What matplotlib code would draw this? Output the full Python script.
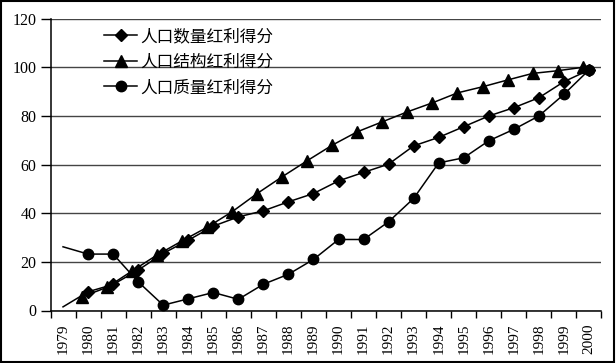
import numpy as np
import matplotlib
matplotlib.use("Agg")
import matplotlib.pyplot as plt
from matplotlib.lines import Line2D
from matplotlib.patches import Rectangle

plt.rcParams['font.family'] = ['Liberation Serif', 'Noto Sans CJK SC']

# %% data
years = [str(y) for y in range(1979, 2001)]
quantity = [1.5, 7.7, 10.7, 16.6, 23.5, 28.9, 34.7, 38.5, 41.0, 44.7, 48.1,
            53.3, 56.8, 60.2, 67.7, 71.2, 75.6, 80.0, 83.4, 87.5, 94.1, 98.9]
structure = [np.nan, 5.6, 9.5, 16.2, 22.8, 28.6, 34.2, 40.6, 48.1, 55.0, 61.6,
             68.0, 73.5, 77.6, 81.7, 85.4, 89.5, 92.0, 94.8, 97.5, 98.6, 100.0]
quality = [26.2, 23.2, 23.2, 11.8, 2.2, 4.8, 7.4, 4.6, 10.8, 14.9, 21.0,
           29.2, 29.2, 36.5, 46.1, 60.7, 62.8, 69.8, 74.5, 80.0, 88.9, 98.9]
labels = ["人口数量红利得分", "人口结构红利得分", "人口质量红利得分"]

# %% plot
W, H = 616, 363
fig = plt.figure(figsize=(W / 100, H / 100), dpi=100)
ax = fig.add_axes([50.5 / W, 1 - 310.5 / H, (601.5 - 50.5) / W, (310.5 - 18.7) / H])

x = np.arange(len(years))
mk = list(range(1, len(years)))
ax.plot(x, quantity, color="black", lw=1.1, marker="D", ms=6.5, markevery=mk, zorder=3)
ax.plot(x - 0.25, structure, color="black", lw=1.1, marker="^", ms=8, markevery=mk, zorder=3)
ax.plot(x, quality, color="black", lw=1.1, marker="o", ms=7.5, markevery=mk, zorder=3)

ax.set_ylim(0, 120)
ax.set_xlim(-0.5, len(years) - 0.5)
ax.set_yticks(range(0, 121, 20))
ax.yaxis.grid(True, color="#444444", lw=1.0)
ax.set_axisbelow(True)
for s in ["top", "right"]:
    ax.spines[s].set_visible(False)
ax.spines["left"].set_linewidth(1.1)
ax.spines["bottom"].set_linewidth(1.1)

ax.set_xticks(np.arange(-0.5, len(years), 1.0))
ax.set_xticklabels([])
ax.set_xticks(x, minor=True)
ax.set_xticklabels(years, minor=True, rotation=90, fontsize=11)
ax.tick_params(axis="x", which="major", length=5, width=1.0, direction="out")
ax.tick_params(axis="x", which="minor", length=0, pad=9)
ax.tick_params(axis="y", length=7, width=1.0, labelsize=11.5, pad=3)

handles = [
    Line2D([], [], color="black", lw=1.1, marker="D", ms=6.5),
    Line2D([], [], color="black", lw=1.1, marker="^", ms=8),
    Line2D([], [], color="black", lw=1.1, marker="o", ms=7.5),
]
fig.legend(handles, labels, loc="upper left", bbox_to_anchor=(104 / W, 1 - 28 / H),
           frameon=False, prop={"family": ["Noto Sans CJK SC"], "size": 12},
           handlelength=2.0, handletextpad=0.15, labelspacing=0.52,
           borderpad=0, borderaxespad=0)

fig.patches.append(Rectangle((0.002, 0.003), 0.995, 0.994, transform=fig.transFigure,
                             fill=False, edgecolor="black", lw=1.5))

fig.savefig("out.png", dpi=100)
